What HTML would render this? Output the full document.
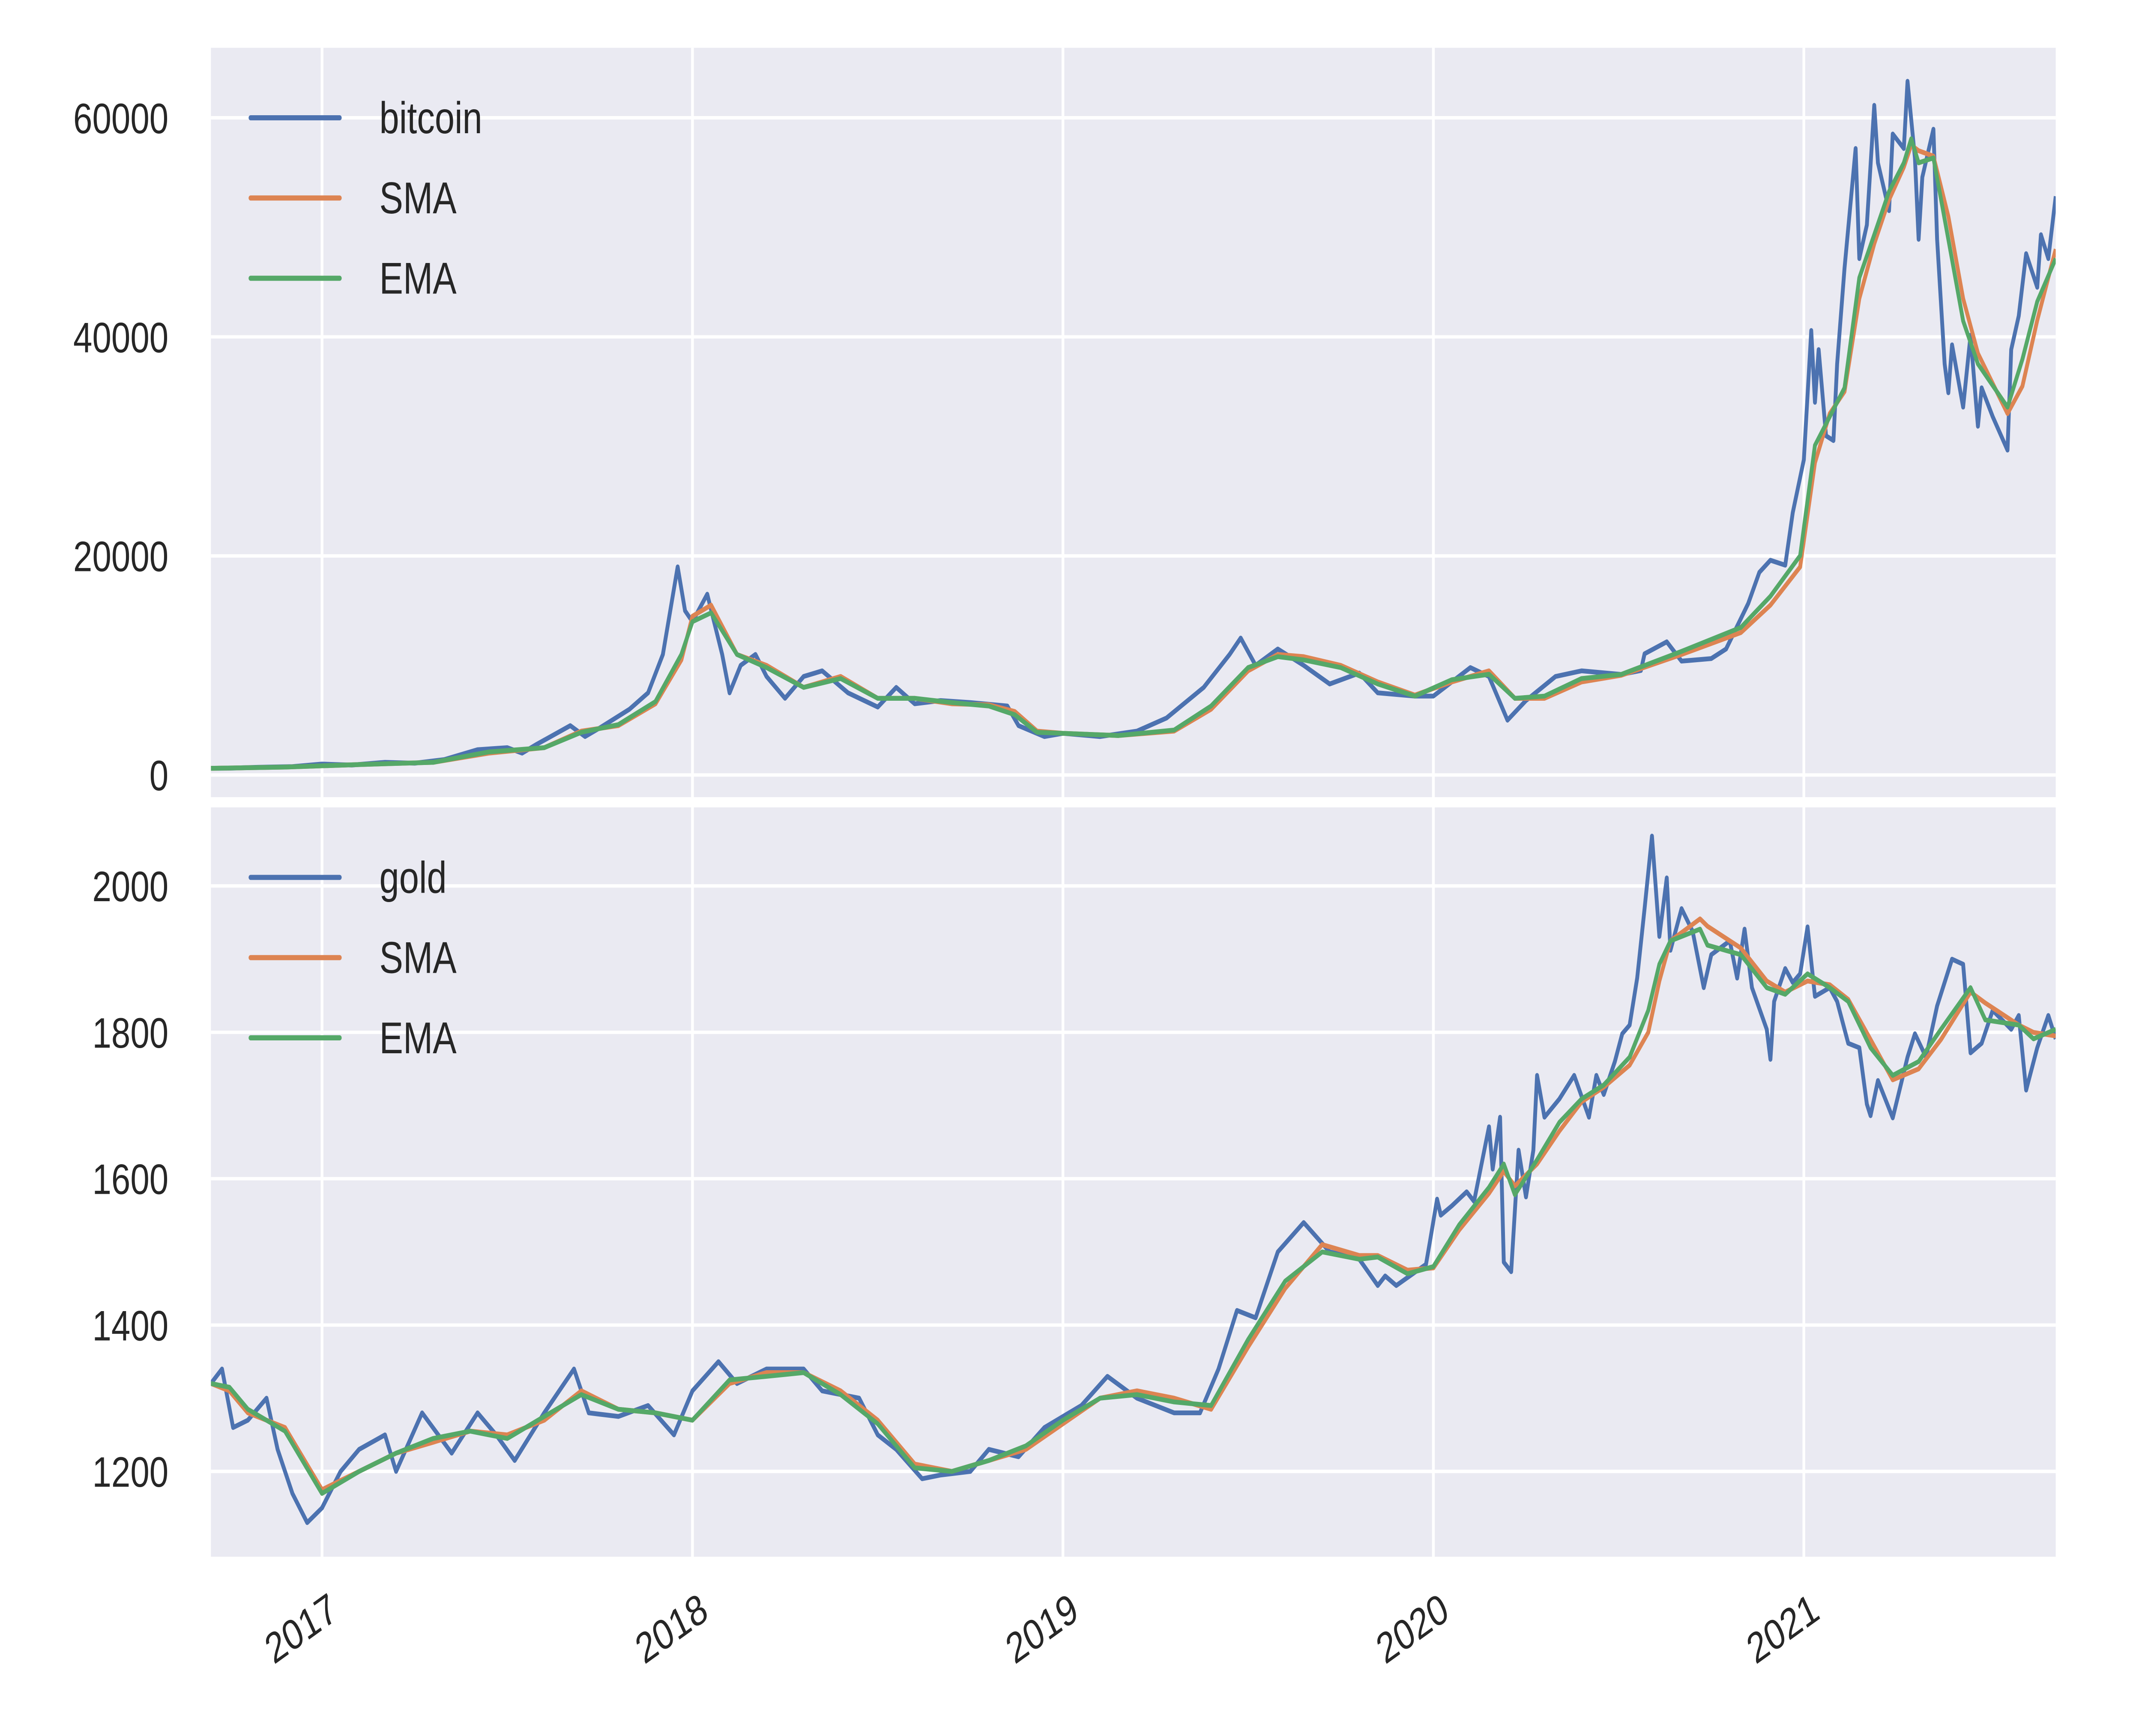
<!DOCTYPE html>
<html><head><meta charset="utf-8"><style>
html,body{margin:0;padding:0;background:#fff;overflow:hidden;width:100vw;height:100vh;}
svg{display:block;width:100vw;height:100vh;}
text{font-family:"Liberation Sans",sans-serif;fill:#262626;}
</style></head><body>
<svg id="chart" viewBox="0 0 1564 1017" preserveAspectRatio="none" xmlns="http://www.w3.org/2000/svg"></svg>
<script>
// ---- data (fractional year, value) ----
const btcDates=[2016.70,2016.75,2016.83,2016.92,2017.0,2017.08,2017.17,2017.25,2017.33,2017.42,2017.5,2017.54,2017.58,2017.67,2017.71,2017.75,2017.83,2017.88,2017.92,2017.96,2017.98,2018.0,2018.04,2018.08,2018.1,2018.13,2018.17,2018.2,2018.25,2018.3,2018.35,2018.42,2018.5,2018.55,2018.6,2018.67,2018.75,2018.85,2018.88,2018.95,2019.0,2019.1,2019.2,2019.28,2019.38,2019.45,2019.48,2019.52,2019.58,2019.65,2019.72,2019.8,2019.85,2019.95,2020.0,2020.1,2020.15,2020.2,2020.25,2020.33,2020.4,
2020.507,2020.56,2020.57,2020.63,2020.67,2020.75,2020.79,2020.85,2020.88,2020.91,2020.95,2020.97,2021.0,2021.02,2021.03,2021.04,2021.06,2021.08,2021.09,2021.11,2021.14,2021.15,2021.17,2021.19,2021.20,2021.23,2021.24,2021.27,2021.28,2021.30,2021.31,2021.32,2021.35,2021.36,2021.38,2021.39,2021.40,2021.43,2021.45,2021.47,2021.48,2021.51,2021.55,2021.56,2021.58,2021.60,2021.63,2021.64,2021.66,2021.68];
const btcValues=[610,620,700,760,1000,900,1150,1080,1400,2300,2500,2000,2800,4500,3500,4300,6000,7500,11000,19000,15000,14000,16500,11000,7500,10000,11000,9000,7000,9000,9500,7500,6200,8000,6500,6800,6600,6300,4500,3500,3800,3500,4000,5200,8000,11000,12500,10000,11500,10000,8300,9300,7500,7200,7200,9800,9000,5000,6800,9000,9500,
9180,9530,11060,12160,10400,10630,11500,15660,18500,19600,19150,23960,28780,40580,34020,38840,30970,30530,37530,46270,57200,47150,50210,61140,55890,51520,58520,57200,63330,56330,48900,54580,58950,48900,37530,34900,39270,33590,40150,31840,35340,32710,29650,38840,41900,47590,44520,49330,47150,52830];
const btcSmaDates=[2016.70,2016.9,2017.1,2017.3,2017.45,2017.6,2017.7,2017.8,2017.9,2017.97,2018.0,2018.05,2018.12,2018.2,2018.3,2018.4,2018.5,2018.6,2018.7,2018.8,2018.87,2018.93,2019.0,2019.15,2019.3,2019.4,2019.5,2019.58,2019.65,2019.75,2019.85,2019.95,2020.05,2020.15,2020.22,2020.3,2020.4,
2020.507,2020.67,2020.83,2020.91,2020.99,2021.03,2021.07,2021.11,2021.15,2021.19,2021.23,2021.27,2021.29,2021.31,2021.35,2021.39,2021.43,2021.47,2021.55,2021.59,2021.63,2021.68];
const btcSmaValues=[600,720,950,1150,2000,2500,4000,4500,6500,10500,14500,15500,11000,10000,8000,9000,7000,7000,6500,6400,5800,4000,3800,3600,4000,6000,9500,11000,10800,10000,8500,7300,8500,9500,7000,7000,8500,
9100,11000,13000,15500,19000,28500,33000,35000,43500,48500,52500,55500,57500,57000,56500,51000,43500,38500,33000,35500,41500,48000];
const btcEmaValues=[600,720,950,1150,2100,2500,3900,4600,6700,11000,14000,14800,11000,9800,8000,8800,7000,7000,6600,6300,5500,3900,3800,3600,4100,6300,9800,10800,10500,9800,8300,7200,8700,9200,7000,7200,8800,
9180,11280,13470,16310,20030,30090,32710,35340,45400,49330,53270,55890,58080,55890,56330,48900,41460,37530,33590,37970,43210,47150];
const goldDates=[2016.70,2016.73,2016.76,2016.8,2016.85,2016.88,2016.92,2016.96,2017.0,2017.05,2017.1,2017.17,2017.2,2017.27,2017.35,2017.42,2017.47,2017.52,2017.6,2017.68,2017.72,2017.8,2017.88,2017.95,2018.0,2018.07,2018.12,2018.2,2018.3,2018.35,2018.45,2018.5,2018.55,2018.62,2018.67,2018.75,2018.8,2018.88,2018.95,2019.05,2019.12,2019.2,2019.3,2019.37,2019.42,2019.47,2019.52,2019.58,2019.65,2019.72,2019.8,
2019.85,2019.87,2019.90,2019.98,2019.99,2020.01,2020.02,2020.05,2020.09,2020.11,2020.15,2020.16,2020.18,2020.19,2020.21,2020.23,2020.25,2020.27,2020.28,2020.30,2020.34,2020.38,2020.42,2020.44,2020.46,2020.49,2020.51,2020.53,2020.55,2020.57,2020.59,2020.61,2020.63,2020.64,2020.67,2020.70,2020.73,2020.75,2020.80,2020.82,2020.84,2020.86,2020.90,2020.91,2020.92,2020.95,2020.97,2020.99,2021.01,2021.03,2021.07,2021.09,2021.12,2021.15,2021.17,2021.18,2021.20,2021.24,2021.28,2021.30,2021.33,2021.36,2021.40,2021.43,2021.45,2021.48,2021.51,2021.56,2021.58,2021.60,2021.63,2021.66,2021.68];
const goldValues=[1320,1340,1260,1270,1300,1230,1170,1130,1150,1200,1230,1250,1200,1280,1225,1280,1250,1215,1280,1340,1280,1275,1290,1250,1310,1350,1320,1340,1340,1310,1300,1250,1230,1190,1195,1200,1230,1220,1260,1290,1330,1300,1280,1280,1340,1420,1410,1500,1540,1500,1490,
1454,1467,1454,1483,1512,1572,1550,1563,1582,1569,1671,1613,1684,1486,1473,1639,1575,1639,1741,1684,1709,1741,1684,1741,1715,1760,1798,1810,1874,1969,2068,1931,2011,1912,1969,1938,1861,1906,1925,1874,1941,1861,1804,1763,1842,1887,1868,1880,1944,1849,1861,1842,1785,1779,1702,1686,1734,1683,1766,1798,1766,1836,1900,1893,1772,1785,1830,1804,1823,1721,1779,1823,1791];
const goldSmaDates=[2016.70,2016.75,2016.8,2016.9,2017.0,2017.1,2017.2,2017.3,2017.4,2017.5,2017.6,2017.7,2017.8,2017.9,2018.0,2018.1,2018.2,2018.3,2018.4,2018.5,2018.6,2018.7,2018.8,2018.9,2019.0,2019.1,2019.2,2019.3,2019.4,2019.5,2019.6,2019.7,2019.8,
2019.85,2019.93,2020.0,2020.07,2020.15,2020.19,2020.22,2020.28,2020.34,2020.40,2020.46,2020.53,2020.58,2020.61,2020.64,2020.72,2020.74,2020.83,2020.90,2020.95,2021.01,2021.07,2021.12,2021.18,2021.24,2021.31,2021.37,2021.45,2021.49,2021.58,2021.62,2021.68];
const goldSmaValues=[1320,1310,1280,1260,1175,1200,1225,1240,1255,1250,1270,1310,1285,1280,1270,1320,1335,1335,1310,1270,1210,1200,1215,1230,1265,1300,1310,1300,1285,1370,1450,1510,1495,
1495,1475,1478,1530,1580,1610,1590,1620,1665,1705,1725,1755,1800,1870,1925,1955,1945,1915,1870,1855,1870,1865,1845,1790,1735,1750,1790,1855,1840,1810,1800,1795];
const goldEmaValues=[1320,1315,1285,1255,1170,1200,1225,1245,1255,1245,1275,1305,1285,1280,1270,1325,1330,1335,1305,1265,1205,1200,1215,1235,1270,1300,1305,1295,1290,1380,1460,1500,1490,
1493,1470,1480,1537,1588,1620,1578,1626,1677,1709,1728,1766,1830,1893,1925,1941,1919,1906,1861,1852,1880,1861,1842,1779,1741,1760,1804,1861,1817,1810,1791,1804];
const btcTicks=[0,20000,40000,60000];
const goldTicks=[1200,1400,1600,1800,2000];
const yearTicks=[2017,2018,2019,2020,2021];

const NS="http://www.w3.org/2000/svg";
const svg=document.getElementById('chart');
const X0=154,X1=1501,T0=2016.70,T1=2021.68;
const xs=t=>X0+(t-T0)/(T1-T0)*(X1-X0);
const topP={y0:28,y1:467,ref0:454,refv0:0,ref1:69,refv1:60000};
const botP={y0:473,y1:912,ref0:862,refv0:1200,ref1:519,refv1:2000};
const ysTop=v=>topP.ref0+(v-topP.refv0)*(topP.ref1-topP.ref0)/(topP.refv1-topP.refv0);
const ysBot=v=>botP.ref0+(v-botP.refv0)*(botP.ref1-botP.ref0)/(botP.refv1-botP.refv0);
function el(tag,attrs,parent){const e=document.createElementNS(NS,tag);for(const k in attrs)e.setAttribute(k,attrs[k]);(parent||svg).appendChild(e);return e;}
const colors={blue:'#4C72B0',orange:'#DD8452',green:'#55A868'};

function panel(p,ys,ticks,name,series,labels){
  const g=el('g',{});
  
  
  const bg=el('rect',{x:X0,y:p.y0,width:X1-X0,height:p.y1-p.y0,fill:'#EAEAF2'},g);
  
  
  ticks.forEach(v=>{
    const y=ys(v);
    const l=el('line',{x1:X0,x2:X1,y1:y,y2:y,stroke:'#fff','stroke-width':2},g);
    
    
    const t=el('text',{x:123,y:y+9,'text-anchor':'end','font-size':25},g);
    t.textContent=v;
    
    
  });
  yearTicks.forEach(yr=>{
    const x=xs(yr);
    const l=el('line',{x1:x,x2:x,y1:p.y0,y2:p.y1,stroke:'#fff','stroke-width':2},g);
    
    
  });
  const clip=el('clipPath',{id:'clip-'+name},g);
  el('rect',{x:X0,y:p.y0,width:X1-X0,height:p.y1-p.y0},clip);
  series.forEach(s=>{
    const pts=s.d.map((t,i)=>xs(t).toFixed(1)+','+ys(s.v[i]).toFixed(1)).join(' ');
    const pl=el('polyline',{points:pts,fill:'none',stroke:s.c,'stroke-width':s.w,'stroke-linejoin':'round','clip-path':'url(#clip-'+name+')'},g);
    
    
  });
  labels.forEach((lb,i)=>{
    const y=p.y0+41+i*47;
    const lg=el('g',{},g);
    
    
    el('line',{x1:183,x2:248,y1:y,y2:y,stroke:lb.c,'stroke-width':3,'stroke-linecap':'round'},lg);
    const t=el('text',{x:277,y:y+9,'font-size':26},lg);
    t.textContent=lb.n;
  });
}
panel(topP,ysTop,btcTicks,'bitcoin',[
  {d:btcDates,v:btcValues,c:colors.blue,w:2.8,n:'price'},
  {d:btcSmaDates,v:btcSmaValues,c:colors.orange,w:2.8,n:'sma'},
  {d:btcSmaDates,v:btcEmaValues,c:colors.green,w:2.8,n:'ema'}],
  [{n:'bitcoin',c:colors.blue},{n:'SMA',c:colors.orange},{n:'EMA',c:colors.green}]);
panel(botP,ysBot,goldTicks,'gold',[
  {d:goldDates,v:goldValues,c:colors.blue,w:2.8,n:'price'},
  {d:goldSmaDates,v:goldSmaValues,c:colors.orange,w:2.8,n:'sma'},
  {d:goldSmaDates,v:goldEmaValues,c:colors.green,w:2.8,n:'ema'}],
  [{n:'gold',c:colors.blue},{n:'SMA',c:colors.orange},{n:'EMA',c:colors.green}]);
yearTicks.forEach(yr=>{
  const x=xs(yr);
  const t=el('text',{x:x+4,y:932,'text-anchor':'end','font-size':25,transform:'rotate(-30 '+(x+4)+' 932)'});
  t.setAttribute('dominant-baseline','hanging');
  t.textContent=yr;
  
  
});
</script>
</body></html>
